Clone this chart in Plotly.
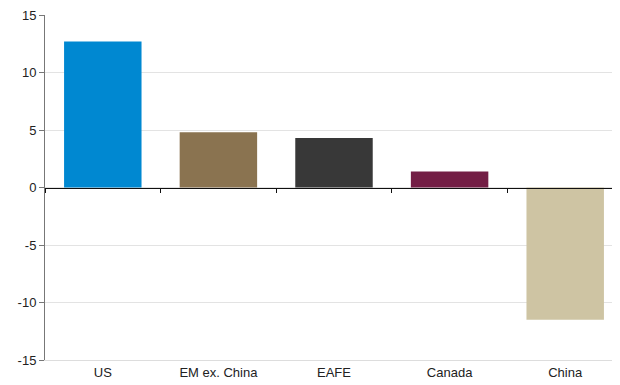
import plotly.graph_objects as go

categories = ["US", "EM ex. China", "EAFE", "Canada", "China"]
values = [12.7, 4.8, 4.3, 1.4, -11.5]
colors = ["#0088d1", "#8a7350", "#383838", "#731e45", "#cec4a3"]
y_ticks = [-15, -10, -5, 0, 5, 10, 15]
y_tick_text = ["-15", "-10", "-5", "0", "5", "10", "15"]

fig = go.Figure()
fig.add_trace(go.Bar(x=categories, y=values, marker_color=colors,
                     marker_line_width=0, width=0.67, xaxis="x", yaxis="y"))
# invisible trace so the bottom label axis is drawn
fig.add_trace(go.Scatter(x=categories, y=[0] * len(categories), mode="markers",
                         marker_opacity=0, xaxis="x2", yaxis="y",
                         hoverinfo="skip"))

# page body has an 8px margin, so margins are shifted to compensate
fig.update_layout(
    width=620, height=385,
    margin=dict(l=37, r=5, t=7, b=33),
    paper_bgcolor="white", plot_bgcolor="white",
    showlegend=False,
    font=dict(family="Liberation Sans, Arial", size=12, color="#222"),
    xaxis=dict(
        anchor="free", position=0.5, range=[-0.5, 4.5],
        showline=True, linecolor="#111", linewidth=1,
        ticks="outside", tickson="boundaries", ticklen=4, tickcolor="#111",
        showticklabels=False, showgrid=False, zeroline=False,
    ),
    xaxis2=dict(
        overlaying="x", anchor="y", side="bottom", range=[-0.5, 4.5],
        showline=True, linecolor="#dddddd", linewidth=1, automargin=False,
        ticks="", showgrid=False, zeroline=False, tickfont=dict(size=13),
    ),
    yaxis=dict(
        range=[-15, 15], tickvals=y_ticks, ticktext=y_tick_text,
        showgrid=True, gridcolor="#e3e3e3", ticklabeloverflow="allow",
        automargin=False,
        zeroline=False, showline=True, linecolor="#777", linewidth=1,
        ticks="outside", ticklen=5, tickcolor="#777", tickfont=dict(size=13),
    ),
)

fig.write_html("out.html")
